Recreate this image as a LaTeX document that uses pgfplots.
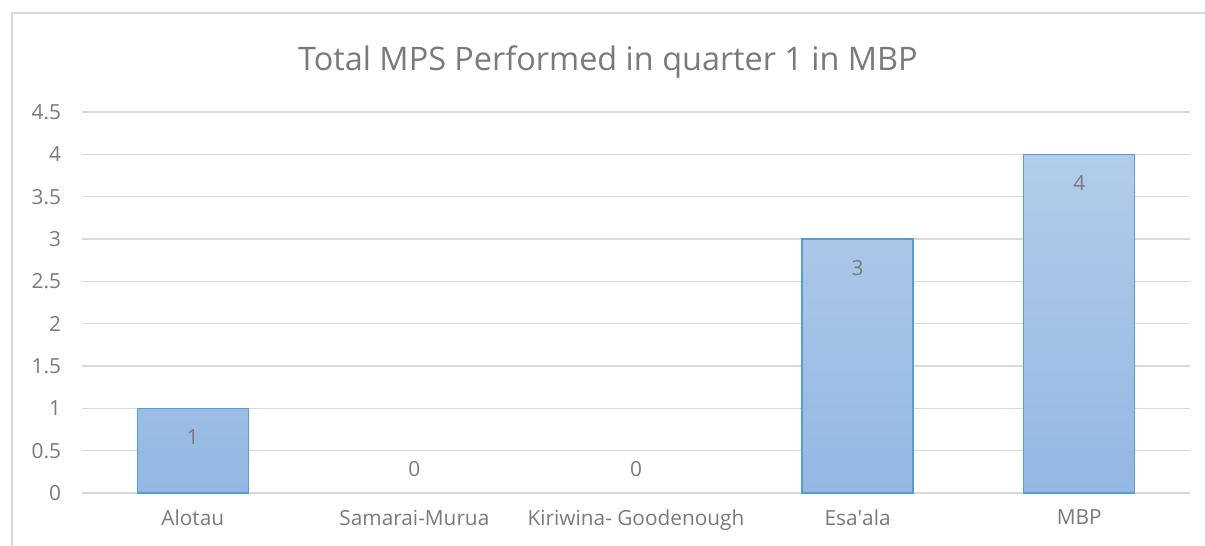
\documentclass[border=0pt]{standalone}
\usepackage{fontspec}
\setmainfont{Open Sans}
\usepackage{pgfplots}
\pgfplotsset{compat=1.18}
\definecolor{gridgray}{HTML}{D9D9D9}
\definecolor{txtgray}{HTML}{7A7A7A}
\definecolor{barline}{HTML}{5B9BD5}
\definecolor{bartop}{HTML}{B3CCEA}
\definecolor{barbot}{HTML}{93B8E3}

\pgfplotstableread{
x y
0 1
1 0
2 0
3 3
4 4
}\mpsdata

\begin{document}
\begin{tikzpicture}
\path[use as bounding box] (-41bp,-26.5bp) rectangle (561.5bp,246.5bp);
\clip (-41bp,-26.5bp) rectangle (561.5bp,246.5bp);
\draw[gridgray, line width=0.75bp] (-35bp,-60bp) rectangle (600bp,240bp);
\begin{axis}[
    scale only axis,
    width=554bp,
    height=190.5bp,
    ybar,
    bar width=55.5bp,
    bar shift=0pt,
    xmin=-0.5, xmax=4.5,
    ymin=0, ymax=4.5,
    xtick={0,1,2,3,4},
    xticklabels={Alotau,Samarai-Murua,Kiriwina- Goodenough,Esa\textquotesingle ala,MBP},
    ytick={0,0.5,1,1.5,2,2.5,3,3.5,4,4.5},
    yticklabels={0,0.5,1,1.5,2,2.5,3,3.5,4,4.5},
    major tick length=0pt,
    axis line style={draw=none},
    ymajorgrids,
    grid style={gridgray, line width=0.75bp},
    tick label style={font=\fontsize{10.4bp}{12bp}\selectfont, text=txtgray},
    xticklabel style={yshift=-5bp},
    yticklabel style={xshift=-7bp},
    /pgf/number format/assume math mode=true,
    unbounded coords=discard,
    clip=false,
]
\addplot[draw=barline, line width=0.75bp, top color=bartop, bottom color=barbot,
    y filter/.expression={y==0 ? nan : y}] table[x=x, y=y] {\mpsdata};
\addplot[draw=none, fill=none,
    visualization depends on={rawy \as \rawy},
    nodes near coords,
    every node near coord/.append style={anchor=center,
        font=\fontsize{10.4bp}{12bp}\selectfont, text=txtgray,
        yshift={ifthenelse(\rawy==0, 12bp, -14.5bp)}},
    ] table[x=x, y=y] {\mpsdata};
\node[font=\fontsize{16.2bp}{19bp}\selectfont, text=txtgray] at (axis description cs:0.4747,1.131) {Total MPS Performed in quarter 1 in MBP};
\end{axis}
\end{tikzpicture}
\end{document}
